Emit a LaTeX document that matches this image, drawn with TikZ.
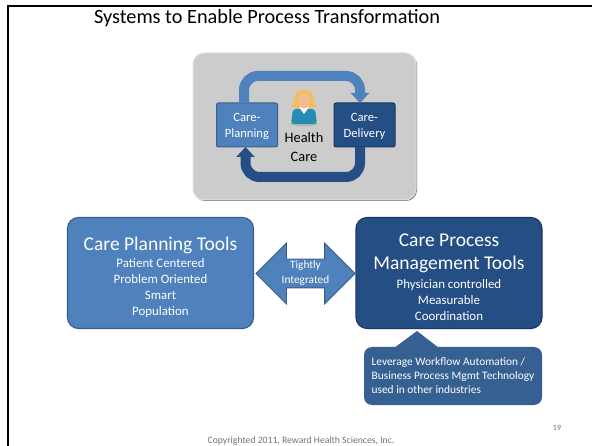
\documentclass[tikz,border=0pt]{standalone}
\usepackage{fontspec}
\setmainfont{Carlito}
\usetikzlibrary{shapes.arrows,shadows,arrows.meta}
\definecolor{careblue}{RGB}{79,129,189}
\definecolor{caredark}{RGB}{36,78,132}
\definecolor{calloutblue}{RGB}{54,96,146}
\definecolor{hairgold}{RGB}{243,190,90}
\definecolor{skintone}{RGB}{240,190,150}
\definecolor{gownblue}{RGB}{35,140,180}
\newcommand{\toolhead}[1]{{\fontsize{19.5}{23}\selectfont #1}}
\newcommand{\toolstrut}{\rule{0pt}{22pt}}
\tikzset{
    toolbox/.style={rounded corners=11pt, fill=#1, draw=#1!72!black, line width=1.1pt, text=white, align=center, inner sep=0pt, minimum width=186pt, minimum height=111pt, font=\fontsize{12.9}{16}\selectfont},
    stepbox/.style={rounded corners=2pt, fill=#1, draw=#1!72!black, line width=1pt, text=white, align=center, inner sep=0pt, minimum width=61pt, minimum height=44pt, font=\fontsize{12.6}{16}\selectfont},
    loopline/.style={line width=10pt, rounded corners=14pt, -{Triangle[width=18pt,length=10pt]}},
}
\begin{document}
\begin{tikzpicture}[x=1pt,y=-1pt]
    \useasboundingbox (0,0) rectangle (592,446);
    \fill[white] (0,0) rectangle (592,446);
    \draw[line width=2pt] (8,446) -- (8,6) -- (592,6);
    \node (title) at (267,18) {\fontsize{20.3}{24}\selectfont Systems to Enable Process Transformation};
    % panel with the cycle
    \node[rounded corners=11pt, fill=black!20, draw=black!12, line width=1pt, minimum width=223pt, minimum height=147pt, inner sep=0pt, drop shadow={shadow xshift=1pt, shadow yshift=-1pt, fill=black!70, opacity=0.8}] (panel) at (304.5,126.5) {};
    \node[stepbox=careblue] (planning) at (247,125) {\rule{0pt}{11pt}Care-\\Planning};
    \node[stepbox=caredark] (delivery) at (364.5,125) {\rule{0pt}{11pt}Care-\\Delivery};
    \coordinate (topout) at (244,103);
    \coordinate (topin) at (360,103);
    \coordinate (botout) at (360,147);
    \coordinate (botin) at (245.5,147);
    \draw[loopline, careblue] (topout) -- (244,76) -- (360,76) -- (topin);
    \draw[loopline, caredark] (botout) -- (360,177) -- (245.5,177) -- (botin);
    % person
    \fill[black!30] (304,124) ellipse (14 and 2);
    \fill[hairgold] (304,100) ellipse (10 and 10.5);
    \fill[hairgold] (294,101) -- (291.5,107) -- (297,108) -- cycle;
    \fill[hairgold] (314,101) -- (316.5,107) -- (311,108) -- cycle;
    \fill[gownblue, rounded corners=3pt] (291,124) -- (293,109) -- (315,109) -- (317,124) -- cycle;
    \fill[white] (299,107) -- (309,107) -- (304,114) -- cycle;
    \fill[skintone] (304,101) ellipse (6.5 and 7.5);
    \node[font=\fontsize{14.4}{19}\selectfont, align=center, inner sep=0pt] (health) at (304,147.5) {Health\\Care};
    % tools
    \node[toolbox=careblue] (planningtools) at (160.5,273) {\toolstrut\toolhead{Care Planning Tools}\\[1pt]Patient Centered\\Problem Oriented\\Smart\\Population};
    \node[toolbox=caredark] (processtools) at (449,273) {\toolstrut\toolhead{Care Process}\\[7pt]\toolhead{Management Tools}\\[3pt]Physician controlled\\Measurable\\Coordination};
    \node[double arrow, double arrow head extend=16pt, minimum height=99pt, inner xsep=0pt, inner ysep=14pt, fill=careblue, draw=careblue!72!black, line width=0.8pt] (link) at (305.5,273.5) {};
    \node[text=white, align=center, inner sep=0pt, font=\fontsize{11.3}{15}\selectfont] (linktext) at (305.5,273.5) {Tightly\\Integrated};
    % callout
    \node[rounded corners=8pt, fill=calloutblue, text=white, minimum width=178pt, minimum height=58pt, inner sep=0pt, align=left, font=\fontsize{11.4}{14}\selectfont] (note) at (453,376) {Leverage Workflow Automation /\\Business Process Mgmt Technology\\used in other industries};
    \coordinate (notetip) at (417,331);
    \fill[calloutblue] (394,348) -- (notetip) -- (439,348) -- cycle;
    \node[text=black!55, font=\fontsize{8}{10}\selectfont] (pageno) at (557,428) {19};
    \node[text=black!55, font=\fontsize{9.7}{11}\selectfont] (copyright) at (301,441) {Copyrighted 2011, Reward Health Sciences, Inc.};
\end{tikzpicture}
\end{document}
